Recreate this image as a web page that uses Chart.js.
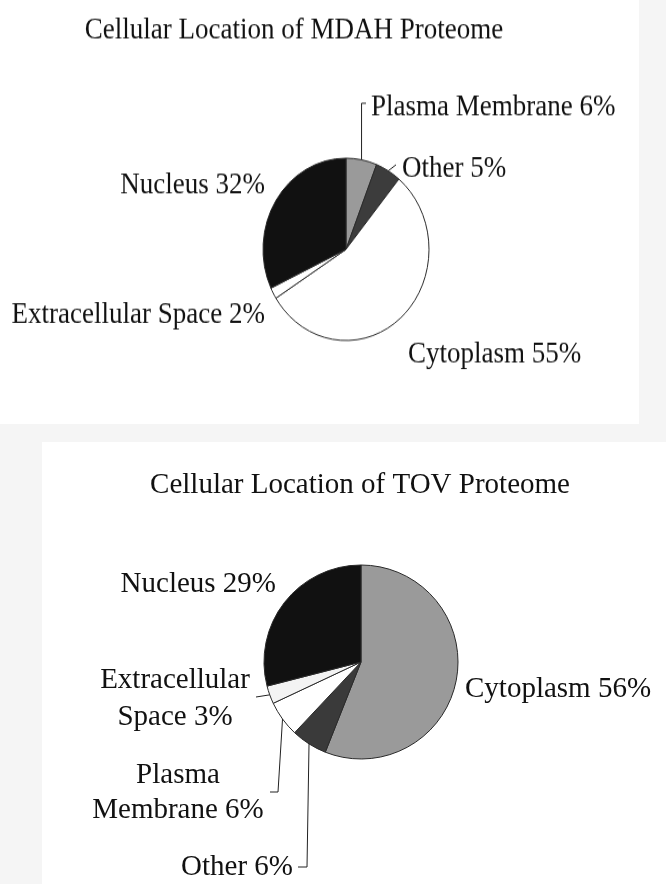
<!DOCTYPE html>
<html>
<head>
<meta charset="utf-8">
<script src="https://cdn.jsdelivr.net/npm/chart.js@4.4.1/dist/chart.umd.min.js"></script>
<style>
  html, body { margin: 0; padding: 0; background: #f5f5f5; }
  body { position: relative; width: 666px; height: 884px; overflow: hidden; }
  canvas { position: absolute; background: #fff; }
</style>
</head>
<body>
<!-- inline sizes so Chart.js keeps them; top one is stretched vertically -->
<canvas id="topCanvas" width="639" height="386" style="left:0;top:0;width:639px;height:424px;"></canvas>
<canvas id="bottomCanvas" width="624" height="442" style="left:42px;top:442px;width:624px;height:442px;"></canvas>
<script>
// MDAH proteome (top chart), clockwise from 12 o'clock
const mdahTitle = 'Cellular Location of MDAH Proteome';
const mdahCategories = ['Plasma Membrane', 'Other', 'Cytoplasm', 'Extracellular Space', 'Nucleus'];
const mdahValues = [6, 5, 55, 2, 32];

// TOV proteome (bottom chart)
const tovTitle = 'Cellular Location of TOV Proteome';
const tovCategories = ['Cytoplasm', 'Other', 'Plasma Membrane', 'Extracellular Space', 'Nucleus'];
const tovValues = [56, 6, 6, 3, 29];

const mdahColors = ['#9a9a9a', '#3c3c3c', '#ffffff', '#ffffff', '#111111'];
const tovColors = ['#9a9a9a', '#3a3a3a', '#ffffff', '#f3f3f3', '#111111'];

// draws title, slice labels and leader lines
const sliceLabels = {
    id: 'sliceLabels',
    afterDatasetsDraw(chart, args, opts) {
        const ctx = chart.ctx;
        const arcs = chart.getDatasetMeta(0).data;
        const cats = chart.data.labels;
        const vals = chart.data.datasets[0].data;
        ctx.save();
        ctx.fillStyle = '#111';
        ctx.strokeStyle = '#222';
        ctx.lineWidth = 1;
        ctx.font = opts.font;
        ctx.textBaseline = 'alphabetic';
        ctx.textAlign = 'center';
        ctx.fillText(opts.title, opts.titleX, opts.titleY);

        opts.labels.forEach((lab, i) => {
            const p = arcs[i].getProps(['x', 'y', 'startAngle', 'endAngle', 'outerRadius'], true);
            const mid = (p.startAngle + p.endAngle) / 2;
            const ax = p.x + Math.cos(mid) * p.outerRadius;
            const ay = p.y + Math.sin(mid) * p.outerRadius;
            if (lab.leader) {
                ctx.beginPath();
                ctx.moveTo(ax, ay);
                lab.leader.forEach(pt => ctx.lineTo(pt[0] === null ? ax : pt[0], pt[1]));
                ctx.stroke();
            }
            const text = cats[i] + ' ' + vals[i] + '%';
            const lines = lab.split ? [text.slice(0, text.indexOf(' ')), text.slice(text.indexOf(' ') + 1)] : [text];
            ctx.textAlign = lab.align;
            lines.forEach((t, k) => ctx.fillText(t, lab.x, lab.y + k * (lab.lh || 0)));
        });
        ctx.restore();
    }
};

function makePie(id, title, cats, vals, colors, pad, radius, labelOpts) {
    const ctx = document.getElementById(id).getContext('2d');
    return new Chart(ctx, {
        type: 'pie',
        data: {
            labels: cats,
            datasets: [{
                data: vals,
                backgroundColor: colors,
                borderColor: '#2a2a2a',
                borderWidth: 1
            }]
        },
        options: {
            responsive: false,
            devicePixelRatio: 1,
            animation: false,
            radius: radius,
            layout: { padding: pad },
            events: [],
            plugins: {
                legend: { display: false },
                tooltip: { enabled: false },
                title: { display: false },
                sliceLabels: Object.assign({ title: title }, labelOpts)
            }
        },
        plugins: [sliceLabels]
    });
}

// top canvas is drawn 386px tall and stretched to 424px, like the squashed original
makePie('topCanvas', mdahTitle, mdahCategories, mdahValues, mdahColors,
    { left: 262, right: 209, top: 143, bottom: 75 }, 83,
    {
        font: '27px "Liberation Serif", "Times New Roman", serif',
        titleX: 294, titleY: 35,
        labels: [
            { align: 'left', x: 371, y: 105, leader: [[null, 94], [366, 94]] },
            { align: 'left', x: 402, y: 161, leader: [[396, 150]] },
            { align: 'left', x: 408, y: 330 },
            { align: 'right', x: 265, y: 294 },
            { align: 'right', x: 265, y: 176 }
        ]
    });

makePie('bottomCanvas', tovTitle, tovCategories, tovValues, tovColors,
    { left: 221, right: 207, top: 122, bottom: 124 }, 97,
    {
        font: '29px "Liberation Serif", "Times New Roman", serif',
        titleX: 318, titleY: 51,
        labels: [
            { align: 'left', x: 423, y: 255 },
            { align: 'right', x: 251, y: 433, leader: [[265, 425], [256, 425]] },
            { align: 'center', x: 136, y: 341, lh: 35, split: true, leader: [[236, 350], [228, 350]] },
            { align: 'center', x: 133, y: 246, lh: 37, split: true, leader: [[214, 255]] },
            { align: 'right', x: 234, y: 150 }
        ]
    });
</script>
</body>
</html>
